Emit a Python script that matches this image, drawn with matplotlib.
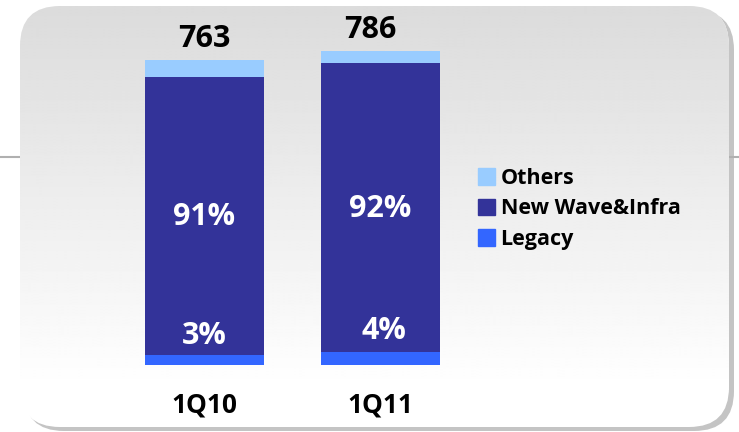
import matplotlib.pyplot as plt
import numpy as np
from matplotlib.patches import FancyBboxPatch, Patch

plt.rcParams['font.family'] = ['Open Sans', 'DejaVu Sans']
plt.rcParams['font.weight'] = 'bold'

quarters = ['1Q10', '1Q11']
legacy = [25, 33]
new_wave = [696, 723]
others = [42, 30]
totals = [763, 786]
legacy_pct = ['3%', '4%']
new_wave_pct = ['91%', '92%']

C_OTHERS = '#99ccff'
C_NEW = '#333399'
C_LEGACY = '#3366ff'

W, H = 739, 432
fig = plt.figure(figsize=(W / 100, H / 100), dpi=100)
fig.patch.set_facecolor('white')

# background: rounded panel with grey-to-white gradient and a shadow
bg = fig.add_axes([0, 0, 1, 1])
bg.axis('off')
bg.plot([0, 20], [157, 157], color='#b0b0b0', lw=1.5)
bg.plot([728, W], [157, 157], color='#b0b0b0', lw=1.5)
shadow = FancyBboxPatch((24, 10), 710, 421, boxstyle='round,pad=0,rounding_size=40',
                        facecolor='#c4c4c4', edgecolor='none', zorder=0)
bg.add_patch(shadow)
panel = FancyBboxPatch((20, 6), 709, 421, boxstyle='round,pad=0,rounding_size=40',
                       facecolor='white', edgecolor='none', zorder=1)
bg.add_patch(panel)
grad = np.linspace(0.86, 1.0, 256)
img = bg.imshow(grad[:, None], cmap='gray', vmin=0, vmax=1,
                extent=[20, 729, 390, 6], aspect='auto', interpolation='bilinear', zorder=2)
img.set_clip_path(panel)
bg.set_xlim(0, W)
bg.set_ylim(H, 0)

# bar chart
ax = fig.add_axes([116.5 / W, 67 / H, 352 / W, 345 / H])
ax.set_xlim(-0.5, 1.5)
ax.set_ylim(0, 862.5)
ax.axis('off')
x = np.arange(len(quarters))
bw = 119 / 176
bottom2 = np.array(legacy) + np.array(new_wave)
ax.bar(x, legacy, bw, color=C_LEGACY, label='Legacy')
ax.bar(x, new_wave, bw, bottom=legacy, color=C_NEW, label='New Wave&Infra')
ax.bar(x, others, bw, bottom=bottom2, color=C_OTHERS, label='Others')

for i in range(len(quarters)):
    ax.text(x[i] - 0.06 * i, totals[i] + 15, str(totals[i]), ha='center', va='bottom',
            fontsize=22, fontweight='bold', color='black')
    ax.text(x[i], 370 + 20 * i, new_wave_pct[i], ha='center', va='center',
            fontsize=22, fontweight='bold', color='white')
    ax.text(x[i] + 0.02 * i, 73 + 12 * i, legacy_pct[i], ha='center', va='center',
            fontsize=22, fontweight='bold', color='white')
    ax.text(x[i], -100, quarters[i], ha='center', va='center',
            fontsize=19, fontweight='bold', color='black')

handles = [Patch(color=C_OTHERS), Patch(color=C_NEW), Patch(color=C_LEGACY)]
fig.legend(handles, ['Others', 'New Wave&Infra', 'Legacy'], loc='center left',
           bbox_to_anchor=(478 / W, 223 / H), frameon=False,
           prop={'weight': 'bold', 'size': 15.5}, handlelength=0.8, handleheight=0.8,
           handletextpad=0.25, labelspacing=0.45, borderpad=0, borderaxespad=0)

fig.savefig('out.png', dpi=100)
